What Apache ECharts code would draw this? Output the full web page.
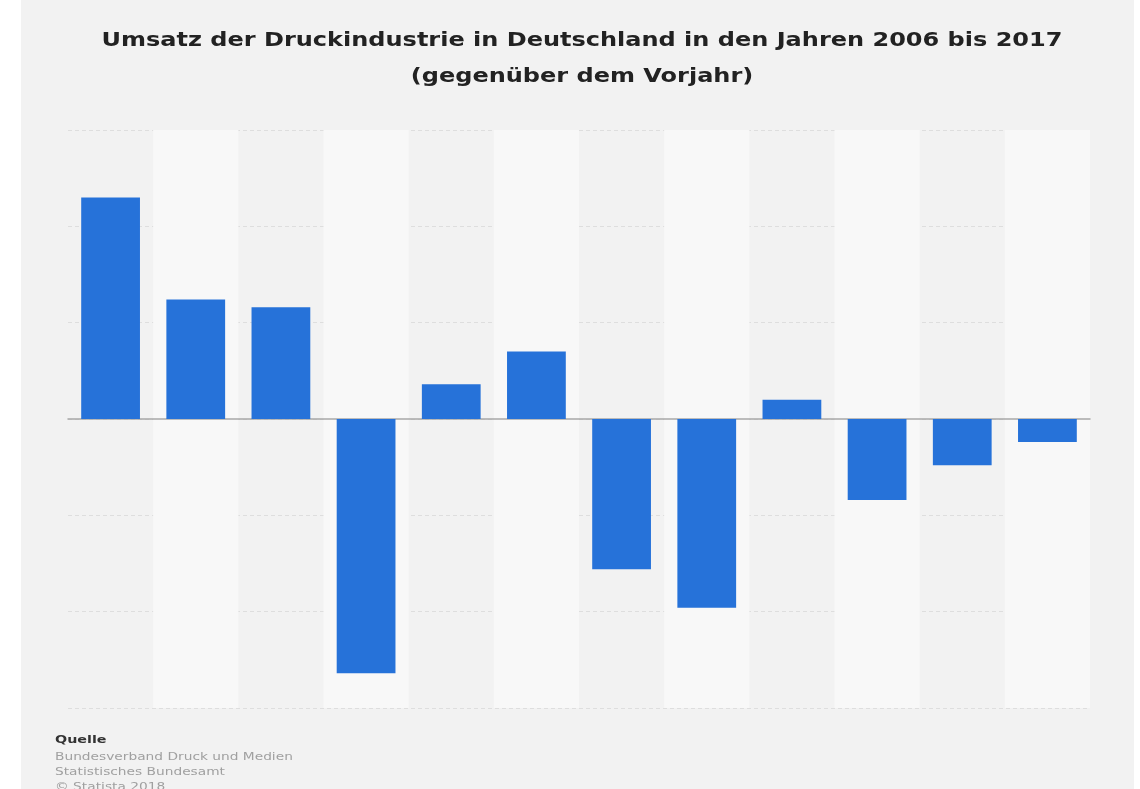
<!DOCTYPE html>
<html>
<head>
<meta charset="utf-8">
<script src="https://cdn.jsdelivr.net/npm/echarts@6/dist/echarts.min.js"></script>
<style>
html,body{margin:0;padding:0;background:#ffffff;width:1140px;height:789px;overflow:hidden;}
#chart{position:absolute;left:21px;top:0;width:1113px;height:789px;}
</style>
</head>
<body>
<div id="chart"></div>
<script>
const categories = ['2006','2007','2008','2009','2010','2011','2012','2013','2014','2015','2016','2017'];
const values = [11.5, 6.2, 5.8, -13.2, 1.8, 3.5, -7.8, -9.8, 1.0, -4.2, -2.4, -1.2];
const titleLines = ['Umsatz der Druckindustrie in Deutschland in den Jahren 2006 bis 2017', '(gegenüber dem Vorjahr)'];
const sourceTitle = 'Quelle';
const sourceLines = ['Bundesverband Druck und Medien', 'Statistisches Bundesamt', '© Statista 2018'];

const chart = echarts.init(document.getElementById('chart'));
chart.setOption({
  backgroundColor: '#f2f2f2',
  animation: false,
  graphic: [
    {
      type: 'text',
      x: 561,
      y: 41,
      scaleX: 1.2,
      style: {
        text: titleLines[0],
        textAlign: 'center',
        textVerticalAlign: 'middle',
        fontFamily: 'DejaVu Sans',
        fontWeight: 'bold',
        fontSize: 20,
        fill: '#222222'
      }
    },
    {
      type: 'text',
      x: 561,
      y: 77,
      scaleX: 1.2,
      style: {
        text: titleLines[1],
        textAlign: 'center',
        textVerticalAlign: 'middle',
        fontFamily: 'DejaVu Sans',
        fontWeight: 'bold',
        fontSize: 20,
        fill: '#222222'
      }
    },
    {
      type: 'text',
      x: 34,
      y: 740,
      scaleX: 1.3,
      style: {
        text: sourceTitle,
        textVerticalAlign: 'middle',
        fontFamily: 'DejaVu Sans',
        fontWeight: 'bold',
        fontSize: 11,
        fill: '#333333'
      }
    },
    {
      type: 'text',
      x: 34,
      y: 750,
      scaleX: 1.25,
      style: {
        text: sourceLines.join('\n'),
        fontFamily: 'DejaVu Sans',
        fontSize: 11,
        lineHeight: 15,
        fill: '#a0a0a0'
      }
    }
  ],
  grid: {
    left: 47,
    right: 44,
    top: 130,
    bottom: 81,
    containLabel: false
  },
  xAxis: {
    type: 'category',
    data: categories,
    axisLine: { show: true, onZero: true, lineStyle: { color: '#a8a8a8', width: 1.5 } },
    axisTick: { show: false },
    axisLabel: { show: false },
    splitArea: {
      show: true,
      areaStyle: { color: ['rgba(0,0,0,0)', '#f8f8f8'] }
    }
  },
  yAxis: {
    type: 'value',
    min: -15,
    max: 15,
    interval: 5,
    axisLine: { show: false },
    axisTick: { show: false },
    axisLabel: { show: false },
    splitLine: { show: true, lineStyle: { color: '#dedede', type: [4, 3], width: 1 } }
  },
  series: [{
    type: 'bar',
    data: values,
    barCategoryGap: '31%',
    itemStyle: { color: '#2672d9' }
  }]
});
</script>
</body>
</html>
